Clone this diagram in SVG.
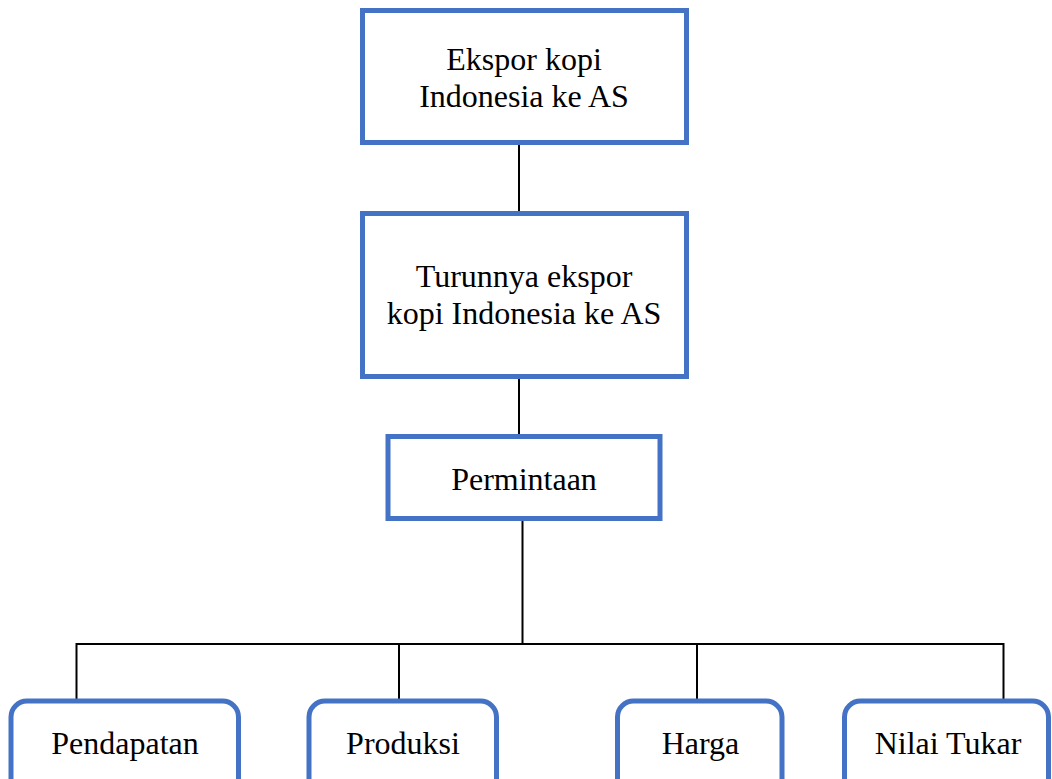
<svg xmlns="http://www.w3.org/2000/svg" width="1052" height="779" viewBox="0 0 1052 779">
<rect width="1052" height="779" fill="#fff"/>
<g id="connectors" stroke="#000" stroke-width="2" fill="none">
<line x1="519" y1="145" x2="519" y2="211"/>
<line x1="519" y1="379" x2="519" y2="434"/>
<line x1="522.5" y1="521" x2="522.5" y2="644"/>
<line x1="76.5" y1="644" x2="1003.5" y2="644"/>
<line x1="76.5" y1="643" x2="76.5" y2="699"/>
<line x1="399" y1="643" x2="399" y2="699"/>
<line x1="697" y1="643" x2="697" y2="699"/>
<line x1="1003.5" y1="643" x2="1003.5" y2="699"/>
</g>
<g id="n1">
<rect x="362.5" y="10.5" width="324" height="132" fill="#fff" stroke="#4472C4" stroke-width="5"/>
<text x="524" y="70" font-size="32" text-anchor="middle" style="font-family:'Liberation Serif',serif !important"><tspan font-family="Liberation Serif" style="font-family:'Liberation Serif',serif !important">Ekspor kopi</tspan></text>
<text x="524" y="106.7" font-size="32" text-anchor="middle" style="font-family:'Liberation Serif',serif !important"><tspan font-family="Liberation Serif" style="font-family:'Liberation Serif',serif !important">Indonesia ke AS</tspan></text>
</g>
<g id="n2">
<rect x="362.5" y="213.5" width="324" height="163" fill="#fff" stroke="#4472C4" stroke-width="5"/>
<text x="524" y="287.3" font-size="32" text-anchor="middle" style="font-family:'Liberation Serif',serif !important"><tspan font-family="Liberation Serif" style="font-family:'Liberation Serif',serif !important">Turunnya ekspor</tspan></text>
<text x="524" y="324" font-size="32" text-anchor="middle" style="font-family:'Liberation Serif',serif !important"><tspan font-family="Liberation Serif" style="font-family:'Liberation Serif',serif !important">kopi Indonesia ke AS</tspan></text>
</g>
<g id="n3">
<rect x="388" y="436.5" width="272" height="82" fill="#fff" stroke="#4472C4" stroke-width="5"/>
<text x="524" y="490" font-size="32" text-anchor="middle" style="font-family:'Liberation Serif',serif !important"><tspan font-family="Liberation Serif" style="font-family:'Liberation Serif',serif !important">Permintaan</tspan></text>
</g>
<g id="n4">
<rect x="11" y="701" width="227.5" height="95" rx="16" fill="#fff" stroke="#4472C4" stroke-width="5"/>
<text x="125" y="754" font-size="32" text-anchor="middle" style="font-family:'Liberation Serif',serif !important"><tspan font-family="Liberation Serif" style="font-family:'Liberation Serif',serif !important">Pendapatan</tspan></text>
</g>
<g id="n5">
<rect x="309" y="701" width="187.5" height="95" rx="16" fill="#fff" stroke="#4472C4" stroke-width="5"/>
<text x="403" y="754" font-size="32" text-anchor="middle" style="font-family:'Liberation Serif',serif !important"><tspan font-family="Liberation Serif" style="font-family:'Liberation Serif',serif !important">Produksi</tspan></text>
</g>
<g id="n6">
<rect x="617.5" y="701" width="164.5" height="95" rx="16" fill="#fff" stroke="#4472C4" stroke-width="5"/>
<text x="700.5" y="754" font-size="32" text-anchor="middle" style="font-family:'Liberation Serif',serif !important"><tspan font-family="Liberation Serif" style="font-family:'Liberation Serif',serif !important">Harga</tspan></text>
</g>
<g id="n7">
<rect x="844.5" y="701" width="204" height="95" rx="16" fill="#fff" stroke="#4472C4" stroke-width="5"/>
<text x="948" y="754" font-size="32" text-anchor="middle" style="font-family:'Liberation Serif',serif !important"><tspan font-family="Liberation Serif" style="font-family:'Liberation Serif',serif !important">Nilai Tukar</tspan></text>
</g>
</svg>
